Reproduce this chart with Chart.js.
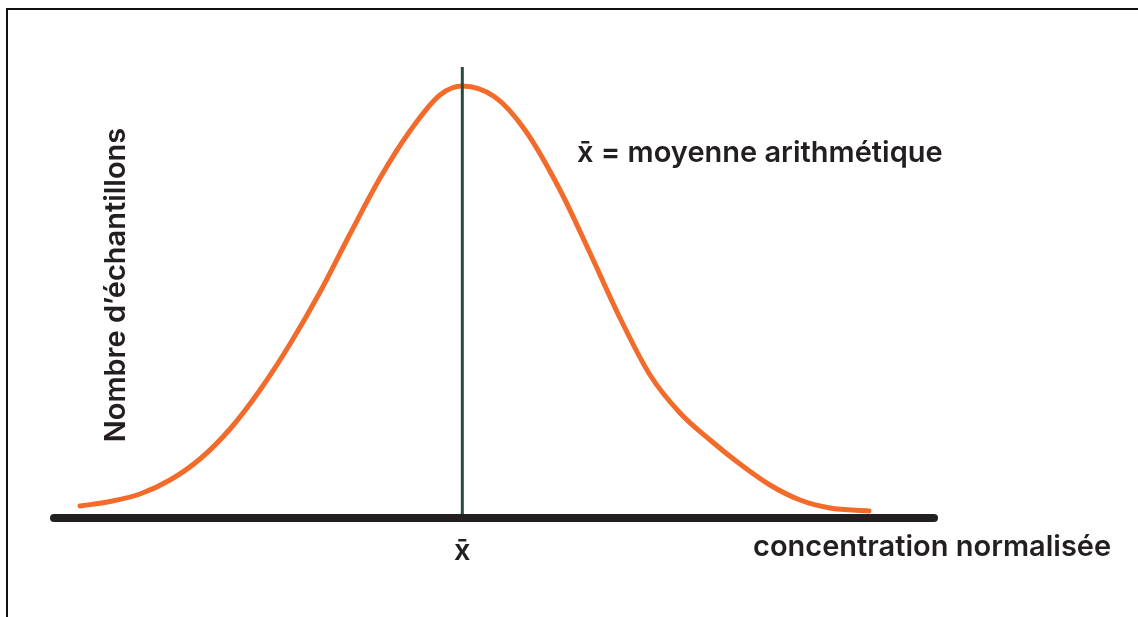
<!DOCTYPE html>
<html>
<head>
<meta charset="utf-8">
<script src="https://cdn.jsdelivr.net/npm/chart.js@4.4.0/dist/chart.umd.min.js"></script>
<style>
    body { margin: 0; background: #fff; }
    #wrap { position: relative; width: 1138px; height: 617px; overflow: hidden; }
    #frame { position: absolute; left: 6px; top: 8px; width: 1200px; height: 700px; border-top: 2px solid #111; border-left: 2px solid #111; }
    canvas { position: absolute; left: 0; top: 0; }
</style>
</head>
<body>
<div id="wrap">
    <div id="frame"></div>
    <canvas id="chart" width="1138" height="617"></canvas>
</div>
<script>
    // concentration (0..100 along the axis) and sample count (peak = 100)
    const concentration = [2.95, 6.36, 9.77, 13.18, 16.59, 20.0, 23.41, 26.82, 30.23, 33.64, 37.05, 40.45, 43.86, 46.4,
        50.11, 53.52, 57.5, 60.91, 64.32, 67.73, 71.14, 74.55, 77.95, 81.36, 84.77, 88.18, 92.61];
    const samples = [2.78, 3.82, 5.56, 8.80, 13.66, 20.60, 29.63, 40.28, 52.31, 65.74, 78.70, 89.58, 97.92, 100,
        97.45, 89.81, 75.93, 61.34, 46.30, 33.10, 24.31, 18.06, 12.50, 7.64, 4.17, 2.31, 1.62];
    const meanValue = 46.4;
    const axisRange = [0, 100];
    const countMax = 104.4;

    const labels = {
        yTitle: 'Nombre d\u2019échantillons',
        xTitle: 'concentration normalisée',
        mean: 'x\u0304',
        legend: 'x\u0304 = moyenne arithmétique'
    };

    const palette = {
        curve: '#f26b2a',
        mean: '#2a4941',
        axis: '#231f20',
        text: '#231f20'
    };

    const textPlugin = {
        id: 'texts',
        afterDraw(chart) {
            const ctx = chart.ctx;
            ctx.save();
            ctx.fillStyle = palette.text;
            ctx.font = '600 29px Inter, "Liberation Sans", sans-serif';
            ctx.textBaseline = 'middle';

            ctx.save();
            ctx.translate(116, 285);
            ctx.rotate(-Math.PI / 2);
            ctx.textAlign = 'center';
            ctx.fillText(labels.yTitle, 0, 0);
            ctx.restore();

            ctx.textAlign = 'left';
            ctx.fillText(labels.legend, 577, 153);
            ctx.fillText(labels.xTitle, 753, 547);

            ctx.textAlign = 'center';
            const mx = chart.scales.x.getPixelForValue(meanValue);
            ctx.fillText(labels.mean, mx, 551);
            ctx.restore();
        }
    };

    new Chart(document.getElementById('chart'), {
        type: 'scatter',
        data: {
            datasets: [
                {
                    data: axisRange.map(v => ({ x: v, y: 0 })),
                    showLine: true, borderColor: palette.axis, borderWidth: 8,
                    borderCapStyle: 'round', pointRadius: 0, order: 0
                },
                {
                    data: [{ x: meanValue, y: 0 }, { x: meanValue, y: countMax }],
                    showLine: true, borderColor: palette.mean, borderWidth: 3,
                    pointRadius: 0, order: 1
                },
                {
                    data: concentration.map((c, i) => ({ x: c, y: samples[i] })),
                    showLine: true, borderColor: palette.curve, borderWidth: 5,
                    borderCapStyle: 'round', cubicInterpolationMode: 'monotone',
                    pointRadius: 0, order: 2
                }
            ]
        },
        options: {
            responsive: false,
            animation: false,
            events: [],
            layout: { padding: { left: 54, right: 204, top: 67, bottom: 99 } },
            plugins: { legend: { display: false }, tooltip: { enabled: false } },
            elements: { line: { fill: false } },
            datasets: { scatter: { clip: false } },
            scales: {
                x: { type: 'linear', display: false, min: axisRange[0], max: axisRange[1] },
                y: { type: 'linear', display: false, min: 0, max: countMax }
            }
        },
        plugins: [textPlugin]
    });
</script>
</body>
</html>
